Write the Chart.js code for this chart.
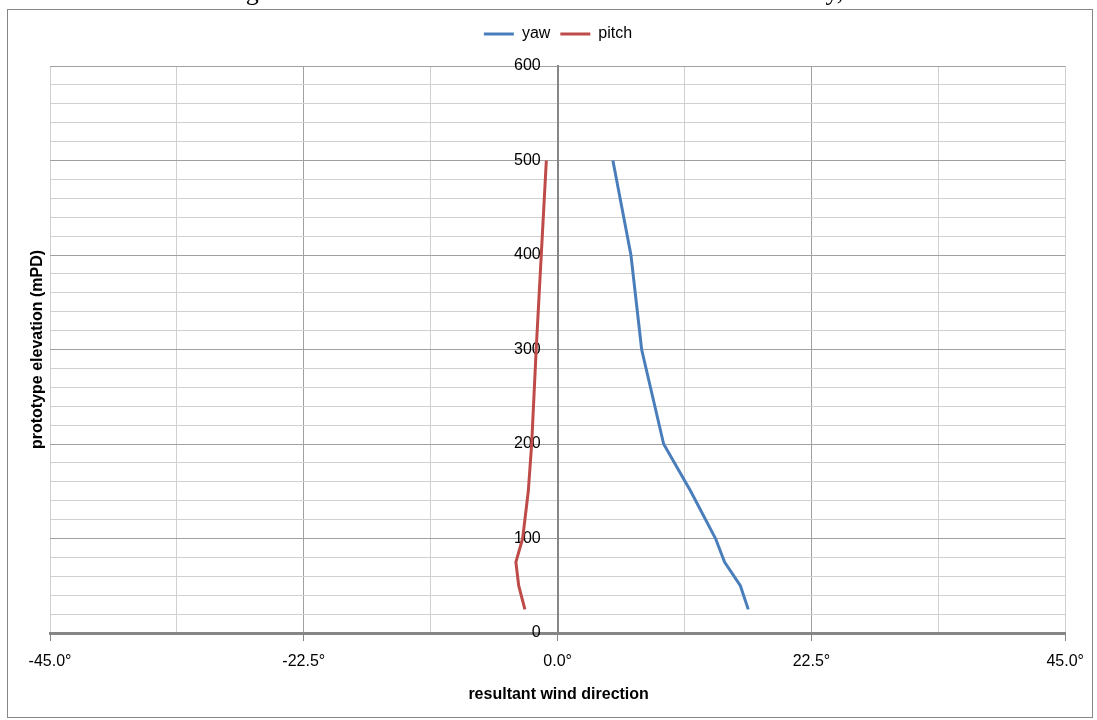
<!DOCTYPE html>
<html>
<head>
<meta charset="utf-8">
<script src="https://cdn.jsdelivr.net/npm/chart.js@4.4.1/dist/chart.umd.min.js"></script>
<style>
  html, body { margin: 0; padding: 0; background: #ffffff; }
  #wrap { width: 1097px; height: 720px; }
</style>
</head>
<body>
<div id="wrap"><canvas id="chart" width="1097" height="720"></canvas></div>
<script>
// Elevations (mPD) at which the flow angles were measured
const elevations = [500, 400, 300, 200, 150, 100, 75, 50, 25];
// Resultant wind direction components, degrees
const yawDeg   = [4.9, 6.5, 7.45, 9.4, 11.8, 14.0, 14.8, 16.2, 16.9];
const pitchDeg = [-1.0, -1.45, -1.9, -2.3, -2.6, -3.1, -3.7, -3.45, -2.9];

// Labelled ticks
const xMajorTicks = [-45, -22.5, 0, 22.5, 45];
const xTickLabels = ['-45.0°', '-22.5°', '0.0°', '22.5°', '45.0°'];
const yMajorTicks = [0, 100, 200, 300, 400, 500, 600];
const yTickLabels = ['0', '100', '200', '300', '400', '500', '600'];

const seriesNames = ['yaw', 'pitch'];
const seriesColors = ['#4a7ebb', '#be4b48'];

const sans = "'Liberation Sans', Arial, sans-serif";
const serif = "'Liberation Serif', 'Times New Roman', serif";

const toPoints = (vals) => elevations.map((e, i) => ({ x: vals[i], y: e }));

// White page, chart frame, axis titles and the heading above the frame
const decor = {
  id: 'decor',
  beforeInit(chart) {
    const fit = chart.legend.fit;
    chart.legend.fit = function () {
      fit.call(this);
      this.height = 50;
    };
  },
  beforeDraw(chart) {
    const c = chart.ctx;
    c.save();
    c.fillStyle = '#ffffff';
    c.fillRect(0, 0, chart.width, chart.height);
    c.strokeStyle = '#868686';
    c.lineWidth = 1;
    c.strokeRect(7.5, 9.5, 1085, 708);
    c.restore();
  },
  afterDraw(chart) {
    const c = chart.ctx;
    const a = chart.chartArea;
    c.save();
    c.fillStyle = '#000000';
    // heading, mostly above the page edge
    c.font = '26px ' + serif;
    c.textAlign = 'center';
    c.textBaseline = 'alphabetic';
    c.fillText('Figure 4a: wind characteristics for the site at Kowloon Bay, etc', 552, 0);
    // axis titles
    c.font = 'bold 16px ' + sans;
    c.textBaseline = 'middle';
    c.fillText('resultant wind direction', (a.left + a.right) / 2 + 1, 695);
    c.translate(38, (a.top + a.bottom) / 2);
    c.rotate(-Math.PI / 2);
    c.fillText('prototype elevation (mPD)', 0, 0);
    c.restore();
  }
};

new Chart(document.getElementById('chart'), {
  type: 'line',
  data: {
    datasets: [
      {
        label: seriesNames[0],
        data: toPoints(yawDeg),
        borderColor: seriesColors[0],
        backgroundColor: seriesColors[0],
        borderWidth: 3,
        pointRadius: 0,
        tension: 0,
        fill: false
      },
      {
        label: seriesNames[1],
        data: toPoints(pitchDeg),
        borderColor: seriesColors[1],
        backgroundColor: seriesColors[1],
        borderWidth: 3,
        pointRadius: 0,
        tension: 0,
        fill: false
      }
    ]
  },
  options: {
    responsive: false,
    animation: false,
    devicePixelRatio: 1,
    layout: { padding: { left: 50, right: 31, top: 16, bottom: 87 } },
    plugins: {
      tooltip: { enabled: false },
      legend: {
        position: 'top',
        labels: {
          boxWidth: 30,
          boxHeight: 3,
          padding: 10,
          color: '#000000',
          font: { family: sans, size: 16 },
          generateLabels(chart) {
            return chart.data.datasets.map((ds, i) => ({
              text: ds.label,
              fillStyle: ds.borderColor,
              strokeStyle: ds.borderColor,
              lineWidth: 0,
              hidden: false,
              datasetIndex: i,
              fontColor: '#000000'
            }));
          }
        }
      }
    },
    scales: {
      x: {
        type: 'linear',
        position: { y: 0 },
        min: -45,
        max: 45,
        ticks: {
          stepSize: 11.25,
          autoSkip: false,
          maxRotation: 0,
          padding: 13,
          color: '#000000',
          font: { family: sans, size: 16 },
          callback(value) {
            const i = xMajorTicks.indexOf(value);
            return i >= 0 ? xTickLabels[i] : '';
          }
        },
        grid: {
          drawTicks: true,
          tickLength: 6,
          color(ctx) {
            const v = ctx.tick ? ctx.tick.value : null;
            if (v === 0) return 'rgba(0,0,0,0)';
            if (v !== null && Math.abs(v) < 45 && xMajorTicks.includes(v)) return '#a0a0a0';
            return '#d0d0d0';
          },
          tickColor(ctx) {
            const v = ctx.tick ? ctx.tick.value : null;
            return xMajorTicks.includes(v) ? '#868686' : 'rgba(0,0,0,0)';
          }
        },
        border: { display: true, color: '#868686', width: 3 }
      },
      // value axis crossing at 0°: grid and axis line
      y: {
        type: 'linear',
        position: { x: 0 },
        min: 0,
        max: 600,
        ticks: { stepSize: 20, autoSkip: false, display: false },
        grid: {
          drawTicks: false,
          color(ctx) {
            const v = ctx.tick ? ctx.tick.value : null;
            if (v === 0) return 'rgba(0,0,0,0)';
            if (yMajorTicks.includes(v)) return '#a0a0a0';
            return '#d0d0d0';
          }
        },
        border: { display: true, color: '#868686', width: 2 }
      },
      // elevation labels, set a little to the left of the 0° axis line
      yLabels: {
        type: 'linear',
        axis: 'y',
        position: { x: -1.5 },
        min: 0,
        max: 600,
        ticks: {
          stepSize: 100,
          autoSkip: false,
          color: '#000000',
          font: { family: sans, size: 16 },
          callback(value) {
            const i = yMajorTicks.indexOf(value);
            return i >= 0 ? yTickLabels[i] : '';
          }
        },
        grid: { display: false, drawTicks: false },
        border: { display: false }
      }
    }
  },
  plugins: [decor]
});
</script>
</body>
</html>
